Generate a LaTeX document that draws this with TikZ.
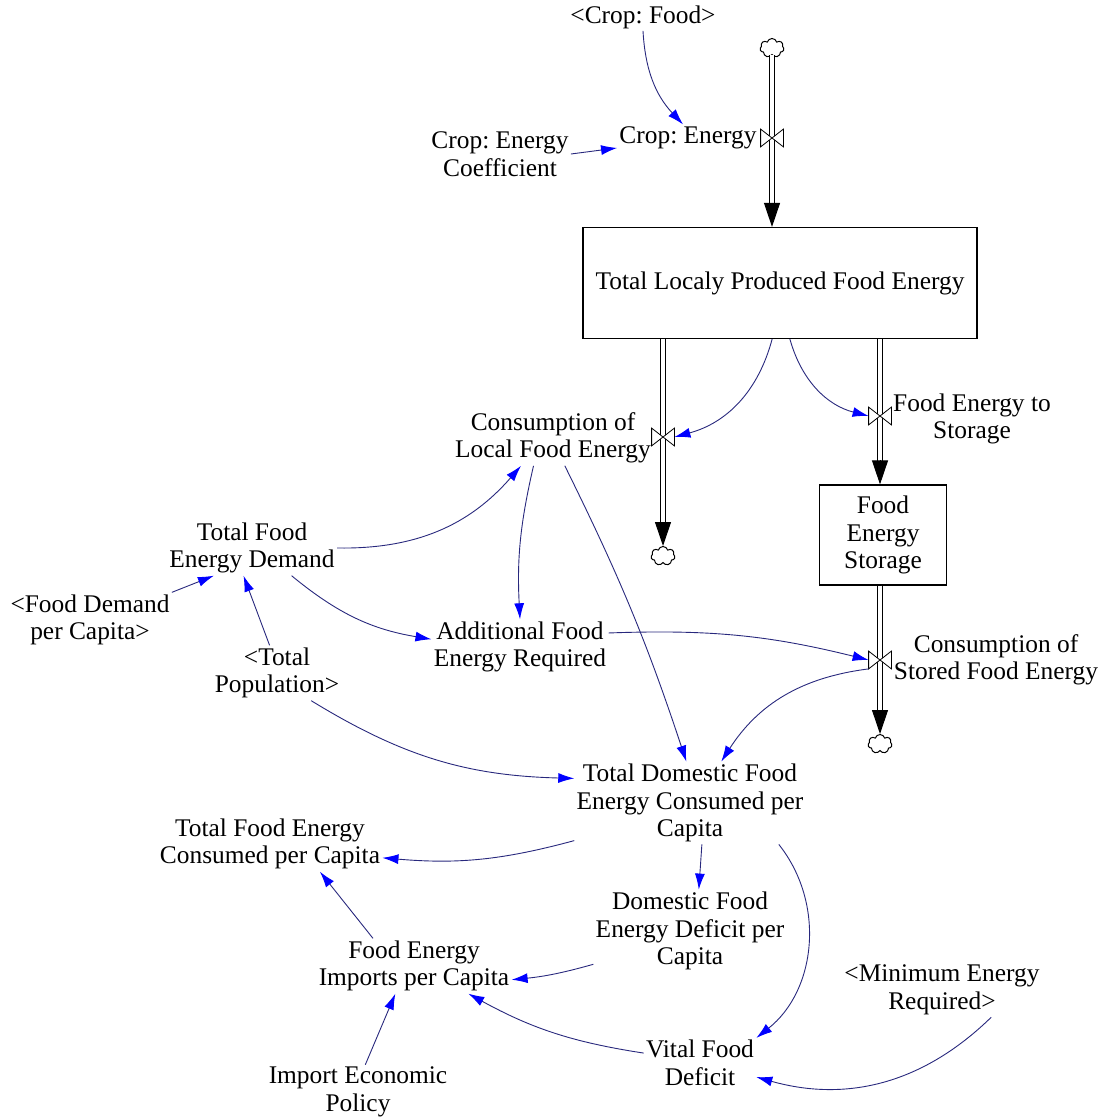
\documentclass[tikz,border=0pt]{standalone}
\usepackage{fontspec}
\setmainfont{Liberation Serif}
\usetikzlibrary{arrows.meta,shapes.symbols}
\definecolor{linkblue}{RGB}{40,40,125}
\frenchspacing

\begin{document}
\begin{tikzpicture}[x=0.5pt,y=-0.5pt,
    font=\fontsize{12.7}{13.75}\selectfont,
    var/.style={align=center,inner sep=1pt},
    stock/.style={draw,line width=0.6pt,align=center,inner sep=2pt},
    valve/.style={minimum width=11pt,minimum height=8.5pt,inner sep=0pt},
    sink/.style={cloud,cloud puffs=7,draw,line width=0.5pt,minimum width=12pt,
      minimum height=9.5pt,inner sep=0pt},
    pipe/.style={double,double distance=2pt,line width=0.5pt,shorten >=11pt},
    flowtip/.style={line width=0.5pt,-{Triangle[length=12pt,width=8pt]}},
    link/.style={draw=linkblue,line width=0.45pt,-{Latex[color=blue,length=8pt,width=5pt]}}]
  \useasboundingbox (0,0) rectangle (1102,1118);

  % stocks
  \node[stock,minimum width=197pt,minimum height=55.5pt] (tlp) at (780,283)
    {Total Localy Produced Food Energy};
  \node[stock,minimum width=63.5pt,minimum height=50pt] (fst) at (883,535)
    {Food\\Energy\\Storage};

  % clouds and valves
  \node[sink] (ct) at (772,48) {};
  \node[sink] (cl) at (663,556) {};
  \node[sink] (co) at (880,744) {};
  \node[valve] (vc) at (772,138) {};
  \node[valve] (vl) at (663,437) {};
  \node[valve] (vs) at (880,416) {};
  \node[valve] (vo) at (880,660) {};

  % pipes
  \coordinate (in1) at (ct |- tlp.north);
  \coordinate (out1) at (vl |- tlp.south);
  \coordinate (out2) at (vs |- tlp.south);
  \coordinate (in2) at (vs |- fst.north);
  \coordinate (out3) at (vo |- fst.south);
  \foreach \s/\e in {ct.south/in1, out1/cl.north, out2/in2, out3/co.north}{
    \draw[pipe] (\s) -- (\e);
    \draw[flowtip] ([yshift=12pt]\e) -- (\e);
  }
  \foreach \v in {vc,vl,vs,vo}
    \draw[fill=white,line width=0.4pt] (\v.north west) -- (\v.center) -- (\v.north east)
      -- (\v.south east) -- (\v.center) -- (\v.south west) -- cycle;

  % variables
  \node[var] (cf) at (643,17) {<Crop: Food>};
  \node[var] (ce) at (688,138) {Crop: Energy};
  \node[var] (cec) at (500,154) {Crop: Energy\\Coefficient};
  \node[var] (clf) at (553,438) {Consumption of\\Local Food Energy};
  \node[var] (fes) at (972,419) {Food Energy to\\Storage};
  \node[var] (csf) at (996,660) {Consumption of\\Stored Food Energy};
  \node[var] (tfd) at (252,548) {Total Food\\Energy Demand};
  \node[var] (fdpc) at (90,620) {<Food Demand\\per Capita>};
  \node[var] (tpop) at (277,673) {<Total\\Population>};
  \node[var] (afr) at (520,647) {Additional Food\\Energy Required};
  \node[var] (tdc) at (690,803) {Total Domestic Food\\Energy Consumed per\\Capita};
  \node[var] (tfc) at (270,844) {Total Food Energy\\Consumed per Capita};
  \node[var] (dfd) at (690,931) {Domestic Food\\Energy Deficit per\\Capita};
  \node[var] (fei) at (414,966) {Food Energy\\Imports per Capita};
  \node[var] (mer) at (942,990) {<Minimum Energy\\Required>};
  \node[var] (vfd) at (700,1063) {Vital Food\\Deficit};
  \node[var] (iep) at (358,1092) {Import Economic\\Policy};

  % links
  \draw[link] (cf.south) to[bend right=20] (ce.110);
  \draw[link] (cec.east) -- (ce.188);
  \draw[link] (tlp.262) to[bend left=30] (vl.east);
  \draw[link] (tlp.280) to[bend right=30] (vs.west);
  \draw[link] (tfd.east) to[bend right=25] (clf.221);
  \draw[link] (clf.235) to[bend right=8] (afr.north);
  \draw[link] (clf.293) to[bend left=4] (tdc.95);
  \draw[link] (tfd.-35) to[bend right=15] (afr.175);
  \draw[link] (fdpc.north east) -- (tfd.216);
  \draw[link] (tpop.105) -- (tfd.253);
  \draw[link] (tpop.-39) to[bend right=15] (tdc.168);
  \draw[link] (afr.9) to[bend left=8] (vo.west);
  \draw[link] (vo.south west) to[bend right=25] (tdc.53);
  \draw[link] (tdc.198) to[bend left=10] (tfc.-7);
  \draw[link] (tdc.-74) -- (dfd.78);
  \draw[link] (tdc.-25) to[bend left=45] (vfd.north east);
  \draw[link] (dfd.199) to[bend left=5] (fei.-8);
  \draw[link] (fei.146) -- (tfc.-29);
  \draw[link] (iep.75) -- (fei.236);
  \draw[link] (vfd.170) to[bend left=10] (fei.-27);
  \draw[link] (mer.-29) to[bend left=30] (vfd.-14);
\end{tikzpicture}
\end{document}
